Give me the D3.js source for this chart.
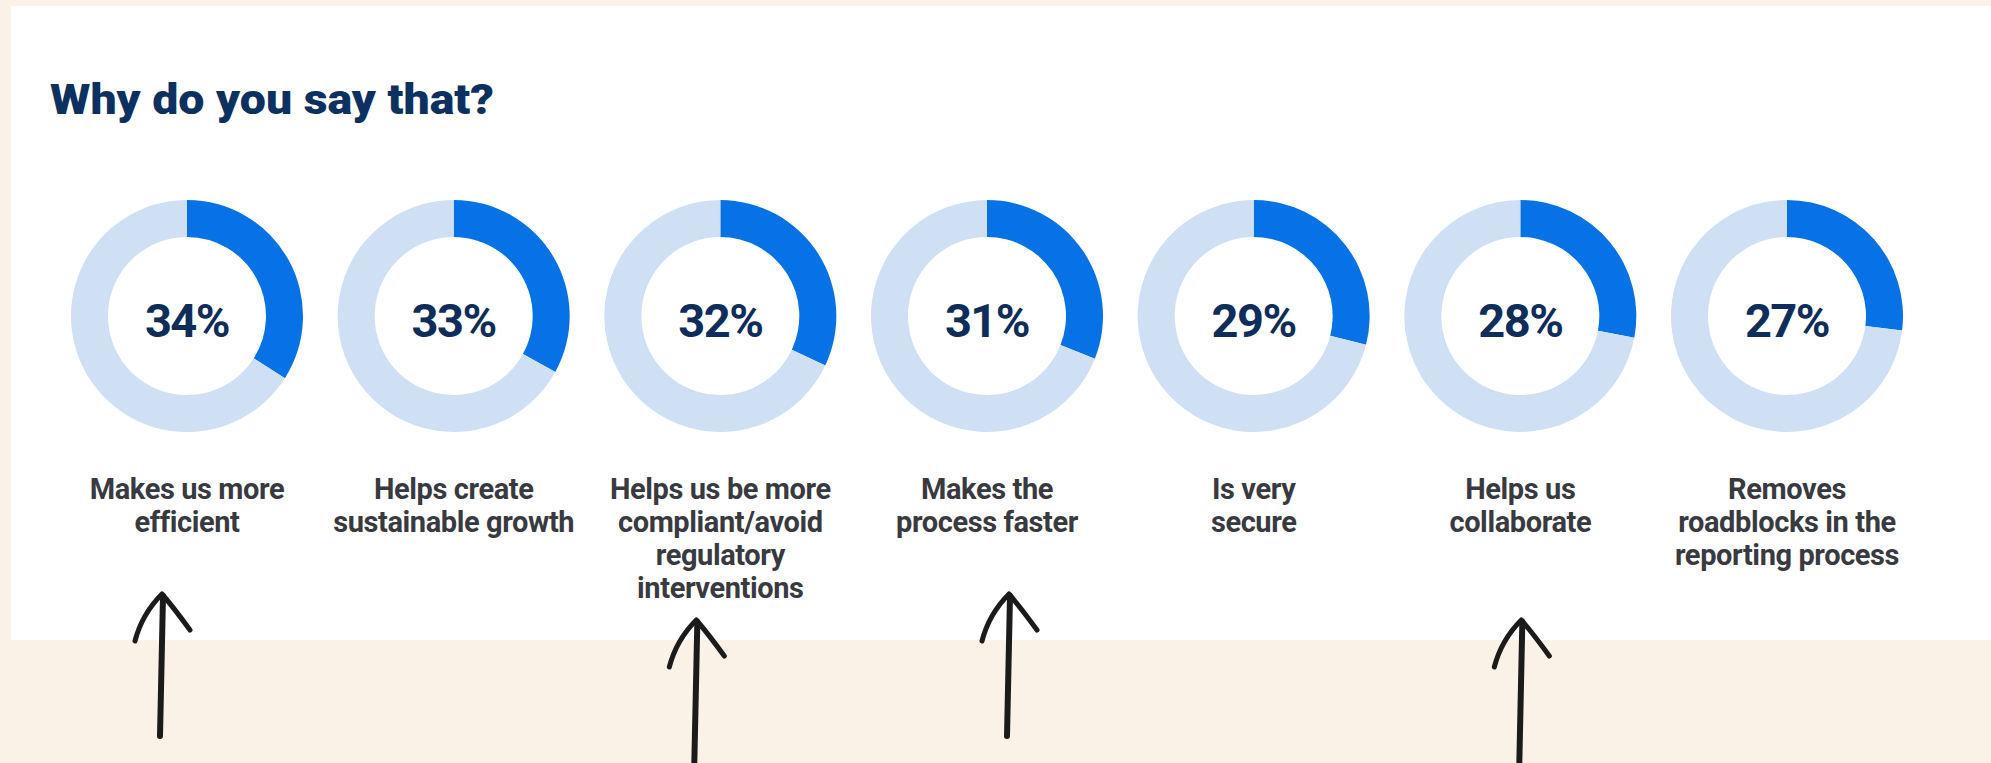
<!DOCTYPE html>
<html>
<head>
<meta charset="utf-8">
<script src="https://cdn.jsdelivr.net/npm/d3@7"></script>
<style>
  html, body { margin: 0; padding: 0; background: #fbf2e7; }
  svg { display: block; }
</style>
</head>
<body>
<svg id="drawing_region"></svg>
<script>
// data
const title = "Why do you say that?";
const categories = [
    "Makes us more\nefficient",
    "Helps create\nsustainable growth",
    "Helps us be more\ncompliant/avoid\nregulatory\ninterventions",
    "Makes the\nprocess faster",
    "Is very\nsecure",
    "Helps us\ncollaborate",
    "Removes\nroadblocks in the\nreporting process"
];
const values = [34, 33, 32, 31, 29, 28, 27];

// hand drawn arrows under some of the answers
const arrowIndex = [0, 2, 3, 5];
const arrowShift = [-25, -24, 22, 1];
const arrowDrop = [0, 26, 0, 26];

const W = 1991, H = 763;

const svg = d3.select('#drawing_region')
    .attr('width', W)
    .attr('height', H);

// white card
svg.append('rect')
    .attr('x', 11).attr('y', 6)
    .attr('width', W - 11).attr('height', 634)
    .attr('fill', '#ffffff');

svg.append('text')
    .attr('x', 50).attr('y', 114)
    .attr('font-family', 'Roboto, sans-serif')
    .attr('font-weight', 900)
    .attr('font-size', 42)
    .attr('fill', '#0c3161')
    .attr('textLength', 444)
    .attr('lengthAdjust', 'spacingAndGlyphs')
    .text(title);

const x = d3.scalePoint()
    .domain(categories)
    .range([187, 1787]);

const cy = 316;

const pie = d3.pie()
    .sort(null)
    .value(d => d);

const arc = d3.arc()
    .innerRadius(79)
    .outerRadius(116);

const donut = svg.selectAll('.donut')
    .data(categories.map((c, i) => ({cat: c, value: values[i]})))
    .enter()
    .append('g')
    .attr('class', 'donut')
    .attr('transform', d => `translate(${x(d.cat)}, ${cy})`);

donut.selectAll('path')
    .data(d => pie([d.value, 100 - d.value]))
    .enter()
    .append('path')
    .attr('d', arc)
    .attr('fill', (d, i) => i == 0 ? '#0672e6' : '#cfe0f5');

donut.append('text')
    .attr('text-anchor', 'middle')
    .attr('y', 21)
    .attr('font-family', 'Roboto, sans-serif')
    .attr('font-weight', 700)
    .attr('font-size', 47)
    .attr('letter-spacing', -1.5)
    .attr('fill', '#0e2d5a')
    .text(d => d.value + '%');

const label = donut.append('text')
    .attr('text-anchor', 'middle')
    .attr('font-family', 'Roboto, sans-serif')
    .attr('font-weight', 700)
    .attr('font-size', 29)
    .attr('letter-spacing', -0.4)
    .attr('fill', '#383a3f');

label.selectAll('tspan')
    .data(d => d.cat.split('\n'))
    .enter()
    .append('tspan')
    .attr('x', 0)
    .attr('y', (d, i) => 499 - cy + i * 33)
    .text(d => d);

// arrows
const arrows = svg.selectAll('.arrow')
    .data(arrowIndex.map((k, i) => ({x: x(categories[k]) + arrowShift[i], top: 592 + arrowDrop[i]})))
    .enter()
    .append('g')
    .attr('class', 'arrow')
    .attr('transform', d => `translate(${d.x}, ${d.top})`)
    .attr('fill', 'none')
    .attr('stroke', '#1b1b1b')
    .attr('stroke-linecap', 'round')
    .attr('stroke-linejoin', 'round');

arrows.append('path')
    .attr('stroke-width', 6)
    .attr('d', 'M1,4 C0,40 -1,90 -2,144');

arrows.append('path')
    .attr('stroke-width', 5)
    .attr('d', 'M-27,49 Q-20,22 0,2 Q12,16 28,38');
</script>
</body>
</html>
